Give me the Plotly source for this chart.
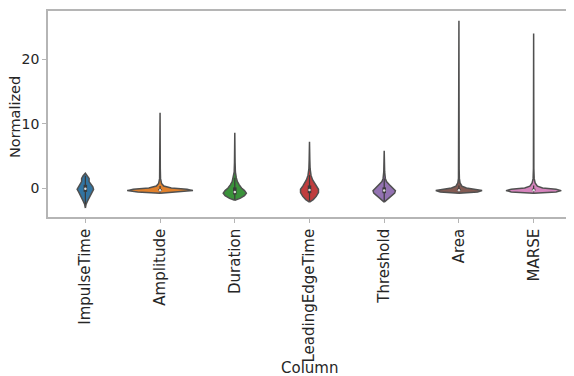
import plotly.graph_objects as go

columns = ["ImpulseTime", "Amplitude", "Duration", "LeadingEdgeTime", "Threshold", "Area", "MARSE"]
colors = ["#3274a1", "#e1812c", "#3a923a", "#c03d3e", "#9372b2", "#845b53", "#d684bd"]

# density profiles: levels (value) and half-widths (category units)
impulse_y = [-3.1, -2.5, -2.0, -1.5, -1.0, -0.6, -0.2, 0.2, 0.6, 1.0, 1.5, 1.9, 2.3]
impulse_w = [0.0, 0.01, 0.03, 0.05, 0.07, 0.09, 0.11, 0.10, 0.07, 0.05, 0.05, 0.03, 0.0]
amplitude_y = [-0.8, -0.6, -0.4, -0.2, 0.0, 0.3, 0.7, 1.5, 3.0, 11.7]
amplitude_w = [0.0, 0.30, 0.44, 0.36, 0.15, 0.05, 0.02, 0.006, 0.003, 0.0]
duration_y = [-1.9, -1.6, -1.2, -0.8, -0.4, 0.0, 0.5, 1.0, 1.6, 2.5, 4.0, 8.6]
duration_w = [0.0, 0.07, 0.13, 0.155, 0.13, 0.09, 0.06, 0.035, 0.02, 0.008, 0.004, 0.0]
leading_y = [-2.2, -1.8, -1.3, -0.7, -0.2, 0.3, 0.8, 1.3, 2.0, 3.0, 4.5, 7.2]
leading_w = [0.0, 0.05, 0.09, 0.12, 0.12, 0.09, 0.06, 0.04, 0.02, 0.008, 0.004, 0.0]
threshold_y = [-2.2, -1.8, -1.3, -0.8, -0.4, 0.0, 0.5, 1.0, 1.5, 2.5, 5.8]
threshold_w = [0.0, 0.04, 0.09, 0.14, 0.15, 0.12, 0.07, 0.03, 0.015, 0.006, 0.0]
area_y = [-0.8, -0.6, -0.4, -0.2, 0.0, 0.3, 0.8, 1.5, 3.0, 26.0]
area_w = [0.0, 0.25, 0.31, 0.22, 0.10, 0.04, 0.015, 0.006, 0.003, 0.0]
marse_y = [-0.8, -0.6, -0.4, -0.2, 0.0, 0.3, 0.8, 1.5, 3.0, 24.0]
marse_w = [0.0, 0.30, 0.37, 0.30, 0.12, 0.05, 0.02, 0.007, 0.003, 0.0]

profiles_y = [impulse_y, amplitude_y, duration_y, leading_y, threshold_y, area_y, marse_y]
profiles_w = [impulse_w, amplitude_w, duration_w, leading_w, threshold_w, area_w, marse_w]

# inner box statistics
whisker_low = [-2.5, -0.7, -1.8, -2.0, -2.0, -0.7, -0.7]
q1 = [-0.6, -0.45, -1.0, -0.8, -0.8, -0.45, -0.45]
median = [-0.1, -0.35, -0.6, -0.3, -0.4, -0.35, -0.35]
q3 = [0.5, -0.15, 0.1, 0.4, 0.1, -0.1, -0.1]
whisker_high = [1.9, 0.3, 1.6, 2.0, 1.5, 0.4, 0.4]

y_ticks = [0, 10, 20]

fig = go.Figure()
for i, name in enumerate(columns):
    ys = profiles_y[i]
    ws = profiles_w[i]
    px = [i + w for w in ws] + [i - w for w in reversed(ws)]
    py = list(ys) + list(reversed(ys))
    fig.add_trace(go.Scatter(x=px, y=py, fill="toself", fillcolor=colors[i], mode="lines",
                             line=dict(color="#505050", width=1.5), hoverinfo="skip", showlegend=False))
    fig.add_trace(go.Scatter(x=[i, i], y=[whisker_low[i], whisker_high[i]], mode="lines",
                             line=dict(color="#3a3a3a", width=1.2), showlegend=False, hoverinfo="skip"))
    fig.add_trace(go.Scatter(x=[i, i], y=[q1[i], q3[i]], mode="lines",
                             line=dict(color="#3a3a3a", width=3.5), showlegend=False, hoverinfo="skip"))
    fig.add_trace(go.Scatter(x=[i], y=[median[i]], mode="markers",
                             marker=dict(color="#dddddd", size=2.5), showlegend=False, hoverinfo="skip"))

font = "DejaVu Sans"
txt = "#262626"
fig.update_layout(
    width=566, height=368,
    margin=dict(l=40, r=2, t=1, b=159),
    plot_bgcolor="white", paper_bgcolor="white",
    font=dict(family=font, size=15, color=txt),
    showlegend=False,
    xaxis=dict(range=[-0.5, 6.5], tickmode="array", tickvals=list(range(len(columns))),
               ticktext=columns, tickangle=-90, showgrid=False, zeroline=False,
               showline=True, mirror=True, linecolor="#b5b5b5", linewidth=1.6,
               ticks="outside", ticklen=4, tickcolor="#b5b5b5", tickwidth=1.2,
               tickfont=dict(size=15, family=font, color=txt)),
    yaxis=dict(range=[-4.5, 27.5], tickmode="array", tickvals=y_ticks,
               ticktext=[str(t) for t in y_ticks], showgrid=False, zeroline=False,
               showline=True, mirror=True, linecolor="#b5b5b5", linewidth=1.6,
               ticks="outside", ticklen=4, tickcolor="#b5b5b5", tickwidth=1.2,
               tickfont=dict(size=14, family=font, color=txt)),
    annotations=[
        dict(text="Column", xref="paper", yref="paper", x=0.5, y=0, yanchor="middle",
             yshift=-151, showarrow=False, font=dict(size=15, family=font, color=txt)),
        dict(text="Normalized", xref="paper", yref="paper", x=0, y=0.5, xanchor="center",
             xshift=-33, yshift=-3, textangle=-90, showarrow=False,
             font=dict(size=14.5, family=font, color=txt)),
    ],
)

fig.write_html("out.html")
